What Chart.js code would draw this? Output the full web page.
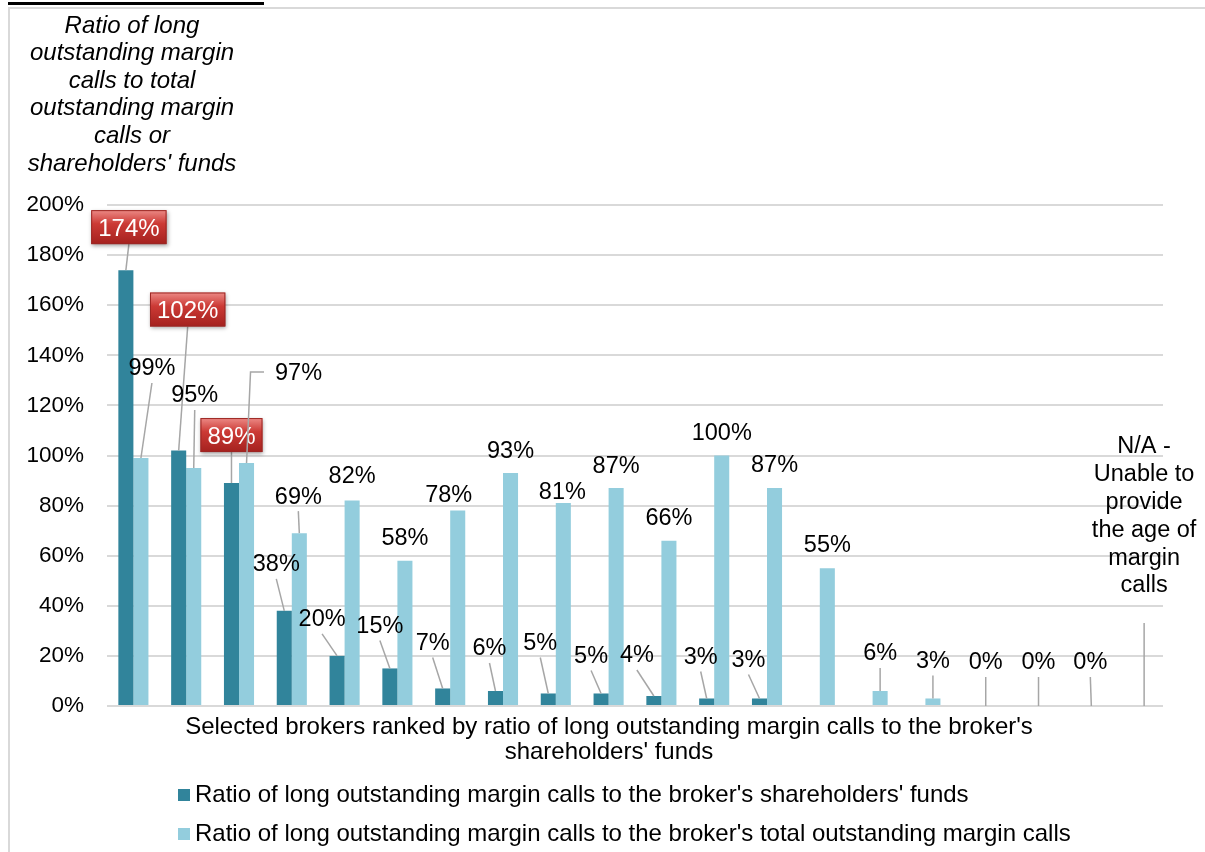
<!DOCTYPE html>
<html>
<head>
<meta charset="utf-8">
<script src="https://cdn.jsdelivr.net/npm/chart.js@4.4.1/dist/chart.umd.min.js"></script>
<style>
  html, body { margin: 0; padding: 0; background: #fff; }
  #wrap { position: relative; width: 1205px; height: 852px; overflow: hidden; }
  #frame { position: absolute; left: 8px; top: 7px; width: 1205px; height: 852px; border-left: 2px solid #d9d9d9; border-top: 2px solid #d9d9d9; }
  #rule { position: absolute; left: 8px; top: 2px; width: 256px; height: 3px; background: #000; }
  canvas { position: absolute; left: 0; top: 0; }
</style>
</head>
<body>
<div id="wrap">
  <div id="frame"></div>
  <div id="rule"></div>
  <canvas id="chart" width="1205" height="852"></canvas>
</div>
<script>
// brokers are anonymous in the source, only their rank is shown
const brokers = ["1", "2", "3", "4", "5", "6", "7", "8", "9", "10",
                 "11", "12", "13", "14", "15", "16", "17", "18", "19", "20"];

// % of shareholders' funds (tiny slivers for 14-16, nothing for 17-20)
const shareholdersFunds = [174, 102, 89, 38, 20, 15, 7, 6, 5, 5, 4, 3, 3, 0.4, 0.4, 0.4, null, null, null, null];
// % of total outstanding margin calls
const totalMarginCalls = [99, 95, 97, 69, 82, 58, 78, 93, 81, 87, 66, 100, 87, 55, 6, 3, 0, 0, 0, null];

const darkLabels = ["174%", "102%", "89%", "38%", "20%", "15%", "7%", "6%", "5%", "5%", "4%", "3%", "3%",
                    "", "", "", "", "", "", ""];
const lightLabels = ["99%", "95%", "97%", "69%", "82%", "58%", "78%", "93%", "81%", "87%", "66%", "100%", "87%",
                     "55%", "6%", "3%", "0%", "0%", "0%", "N/A -\nUnable to\nprovide\nthe age of\nmargin\ncalls"];

const yTicks = [0, 20, 40, 60, 80, 100, 120, 140, 160, 180, 200];

const seriesNames = [
    "Ratio of long outstanding margin calls to the broker's shareholders' funds",
    "Ratio of long outstanding margin calls to the broker's total outstanding margin calls"
];
const yTitle = ["Ratio of long", "outstanding margin", "calls to total", "outstanding margin", "calls or", "shareholders' funds"];
const xTitle = ["Selected brokers ranked by ratio of long outstanding margin calls to the broker's", "shareholders' funds"];

// label placement, relative to the top centre of each bar (pixels)
const darkLabelPos = [
    { dx: 3, dy: -43, box: true, lead: true },
    { dx: 9, dy: -141, box: true, lead: true },
    { dx: 0, dy: -48, box: true, lead: true },
    { dx: -8, dy: -48, lead: true },
    { dx: -15, dy: -38, lead: true },
    { dx: -10, dy: -44, lead: true },
    { dx: -10, dy: -47, lead: true },
    { dx: -6, dy: -44, lead: true },
    { dx: -8, dy: -52, lead: true },
    { dx: -10, dy: -39, lead: true },
    { dx: -17, dy: -42, lead: true },
    { dx: -6, dy: -43, lead: true },
    { dx: -11, dy: -40, lead: true },
    {}, {}, {}, {}, {}, {}, {}
];
const lightLabelPos = [
    { dx: 11, dy: -91, lead: true },
    { dx: 1, dy: -74, lead: true },
    { dx: 52, dy: -91, lead: "elbow" },
    { dx: -1, dy: -38, lead: true },
    { dx: 0, dy: -26 },
    { dx: 0, dy: -24 },
    { dx: -9, dy: -17 },
    { dx: 0, dy: -23 },
    { dx: -1, dy: -12 },
    { dx: 0, dy: -23 },
    { dx: 0, dy: -24 },
    { dx: 0, dy: -24 },
    { dx: 0, dy: -24 },
    { dx: 0, dy: -25 },
    { dx: 0, dy: -39, lead: true },
    { dx: 0, dy: -39, lead: true },
    { dx: 0, dy: -45, lead: true },
    { dx: 0, dy: -45, lead: true },
    { dx: -1, dy: -45, lead: true },
    { dx: 0, dy: -261, lead: true, gap: 39 }
];

const FONT = "'Liberation Sans', Arial, sans-serif";
const DARK = "#31849b";
const LIGHT = "#93cddd";
const LEADER = "#a6a6a6";

function drawRedBox(ctx, cx, cy, text) {
    ctx.font = "24px " + FONT;
    const w = ctx.measureText(text).width + 14;
    const h = 34;
    const x = cx - w / 2, y = cy - h / 2;
    ctx.save();
    ctx.shadowColor = "rgba(0,0,0,0.35)";
    ctx.shadowBlur = 4;
    ctx.shadowOffsetX = 1;
    ctx.shadowOffsetY = 2;
    const g = ctx.createLinearGradient(0, y, 0, y + h);
    g.addColorStop(0, "#ec8a86");
    g.addColorStop(0.4, "#cc3a35");
    g.addColorStop(1, "#a4211e");
    ctx.fillStyle = g;
    ctx.fillRect(x, y, w, h);
    ctx.restore();
    ctx.strokeStyle = "#9c2724";
    ctx.lineWidth = 1;
    ctx.strokeRect(x + 0.5, y + 0.5, w - 1, h - 1);
    ctx.fillStyle = "#fff";
    ctx.textAlign = "center";
    ctx.textBaseline = "alphabetic";
    ctx.fillText(text, cx, cy + 8.6);
}

const labelPlugin = {
    id: "barLabels",
    afterDatasetsDraw(chart) {
        const ctx = chart.ctx;
        const zero = chart.scales.y.getPixelForValue(0);
        [[darkLabels, darkLabelPos], [lightLabels, lightLabelPos]].forEach(([texts, pos], di) => {
            const meta = chart.getDatasetMeta(di);
            texts.forEach((txt, i) => {
                if (!txt) return;
                const p = pos[i];
                const bar = meta.data[i];
                const bx = bar.x;
                const top = isNaN(bar.y) ? zero : bar.y;
                const cx = bx + p.dx;
                const cy = top + p.dy;
                const lines = txt.split("\n");

                ctx.save();
                ctx.strokeStyle = LEADER;
                ctx.lineWidth = 1.5;
                if (p.lead === "elbow") {
                    ctx.font = "23.5px " + FONT;
                    const left = cx - ctx.measureText(txt).width / 2;
                    ctx.beginPath();
                    ctx.moveTo(left - 11, cy);
                    ctx.lineTo(bx + 4, cy);
                    ctx.lineTo(bx, top);
                    ctx.stroke();
                } else if (p.lead) {
                    const gap = p.gap || (p.box ? 17 : 16);
                    const lastLine = cy + (lines.length - 1) * 27.8;
                    ctx.beginPath();
                    ctx.moveTo(cx, lastLine + gap);
                    ctx.lineTo(bx, top);
                    ctx.stroke();
                }
                ctx.restore();

                if (p.box) {
                    drawRedBox(ctx, cx, cy, txt);
                    return;
                }
                ctx.font = "23.5px " + FONT;
                ctx.fillStyle = "#000";
                ctx.textAlign = "center";
                ctx.textBaseline = "alphabetic";
                lines.forEach((ln, k) => ctx.fillText(ln, cx, cy + k * 27.8 + 8.4));
            });
        });
    },
    afterDraw(chart) {
        const ctx = chart.ctx;
        ctx.save();
        ctx.fillStyle = "#000";
        ctx.textAlign = "center";
        ctx.textBaseline = "middle";

        // axis titles
        ctx.font = "italic 24px " + FONT;
        yTitle.forEach((ln, k) => ctx.fillText(ln, 132, 26 + k * 27.6));
        ctx.font = "24px " + FONT;
        xTitle.forEach((ln, k) => ctx.fillText(ln, 609, 727 + k * 25.5));

        // legend, one series per row
        ctx.textAlign = "left";
        ctx.font = "24px " + FONT;
        chart.data.datasets.forEach((ds, k) => {
            const y = 795 + k * 39;
            ctx.fillStyle = ds.backgroundColor;
            ctx.fillRect(178, y - 6, 12, 12);
            ctx.fillStyle = "#000";
            ctx.fillText(ds.label, 195, y);
        });
        ctx.restore();
    }
};

new Chart(document.getElementById("chart"), {
    type: "bar",
    data: {
        labels: brokers,
        datasets: [
            { label: seriesNames[0], data: shareholdersFunds, backgroundColor: DARK,
              categoryPercentage: 0.57, barPercentage: 1.0 },
            { label: seriesNames[1], data: totalMarginCalls, backgroundColor: LIGHT,
              categoryPercentage: 0.57, barPercentage: 1.0 }
        ]
    },
    options: {
        responsive: false,
        animation: false,
        layout: { padding: { top: 205, right: 42, bottom: 146, left: 0 } },
        plugins: { legend: { display: false }, tooltip: { enabled: false } },
        scales: {
            x: { display: false },
            y: {
                min: 0,
                max: 200,
                afterBuildTicks: (s) => { s.ticks = yTicks.map(v => ({ value: v })); },
                afterFit: (s) => { s.width = 107; },
                ticks: {
                    padding: 23,
                    color: "#000",
                    font: { family: FONT, size: 22.5 },
                    callback: (v) => v + "%"
                },
                grid: { color: "#d9d9d9", lineWidth: 2, drawTicks: false },
                border: { display: false }
            }
        }
    },
    plugins: [labelPlugin]
});
</script>
</body>
</html>
